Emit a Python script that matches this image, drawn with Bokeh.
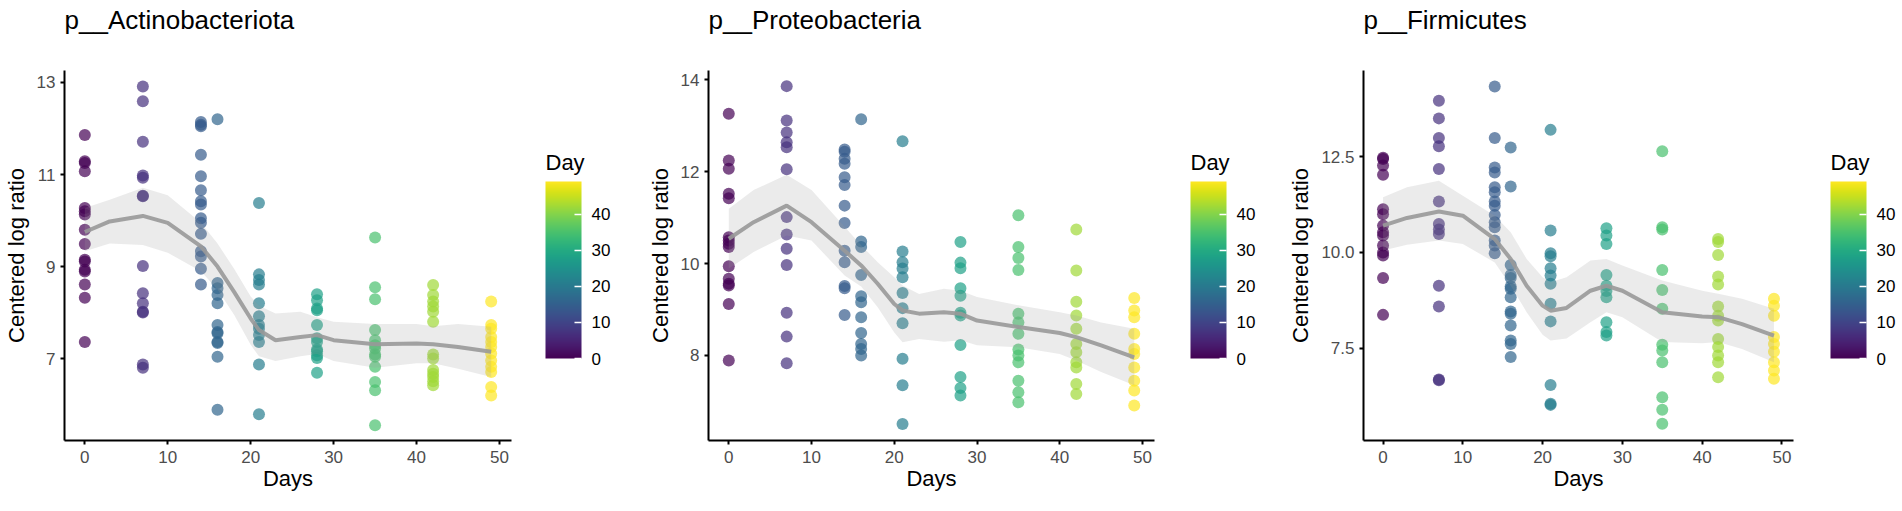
from bokeh.plotting import figure
from bokeh.layouts import row, column
from bokeh.models import (ColumnDataSource, LinearColorMapper, ColorBar, FixedTicker,
                          Range1d, NumeralTickFormatter, Title, Spacer)
from bokeh.palettes import Viridis256
from bokeh.transform import linear_cmap
from bokeh.embed import file_html
from bokeh.resources import INLINE

FONT = "Liberation Sans"

days = [0, 7, 14, 16, 21, 28, 35, 42, 49]
x_ticks = [0, 10, 20, 30, 40, 50]
day_ticks = [0, 10, 20, 30, 40]

# ---- p__Actinobacteriota ----
actino_values = [
    [11.86, 11.29, 11.25, 11.07, 10.27, 10.2, 10.13, 9.8, 9.49, 9.15, 9.11, 8.93, 8.89, 8.61, 8.32, 7.36],
    [12.91, 12.59, 11.71, 10.98, 10.93, 10.54, 10.53, 9.01, 8.42, 8.2, 8.02, 8.0, 6.87, 6.8],
    [12.14, 12.08, 12.05, 11.43, 10.96, 10.66, 10.42, 10.35, 10.05, 9.95, 9.71, 9.33, 9.22, 8.95, 8.61],
    [12.2, 8.64, 8.53, 8.38, 8.2, 7.73, 7.58, 7.55, 7.36, 7.34, 7.04, 5.89],
    [10.38, 8.83, 8.71, 8.61, 8.2, 7.92, 7.73, 7.65, 7.51, 7.36, 6.87, 5.79],
    [8.4, 8.27, 8.09, 8.05, 7.73, 7.44, 7.36, 7.2, 7.16, 7.07, 7.01, 6.69],
    [9.63, 8.55, 8.29, 7.62, 7.4, 7.29, 7.22, 7.09, 7.04, 6.82, 6.49, 6.31, 5.55],
    [8.6, 8.38, 8.24, 8.13, 8.02, 7.8, 7.09, 7.0, 6.75, 6.67, 6.6, 6.51, 6.42],
    [8.24, 7.73, 7.65, 7.47, 7.36, 7.25, 7.11, 6.96, 6.82, 6.71, 6.38, 6.2],
]

# ---- p__Proteobacteria ----
proteo_values = [
    [13.26, 12.24, 12.06, 11.52, 11.42, 10.57, 10.5, 10.43, 10.36, 9.94, 9.67, 9.56, 9.52, 9.12, 7.89],
    [13.86, 13.11, 12.85, 12.64, 12.53, 12.05, 11.01, 10.63, 10.32, 9.97, 8.93, 8.41, 7.83],
    [12.48, 12.43, 12.28, 12.17, 11.88, 11.71, 11.26, 10.88, 10.28, 10.03, 9.51, 9.46, 8.88],
    [13.14, 10.48, 10.36, 9.75, 9.29, 9.16, 8.83, 8.49, 8.25, 8.14, 8.0],
    [12.66, 10.26, 10.03, 9.89, 9.7, 9.36, 9.03, 8.7, 7.93, 7.35, 6.51],
    [10.47, 10.02, 9.9, 9.46, 9.3, 8.93, 8.87, 8.23, 7.53, 7.29, 7.13],
    [11.05, 10.36, 10.12, 9.86, 8.91, 8.72, 8.47, 8.13, 8.0, 7.85, 7.45, 7.2, 6.98],
    [10.74, 9.85, 9.17, 8.87, 8.58, 8.25, 8.07, 7.85, 7.74, 7.38, 7.16],
    [9.25, 8.98, 8.83, 8.47, 8.14, 8.03, 7.74, 7.45, 7.24, 6.91],
]

# ---- p__Firmicutes ----
firmi_values = [
    [12.47, 12.44, 12.27, 12.03, 11.13, 11.0, 10.7, 10.53, 10.44, 10.18, 10.0, 9.92, 9.33, 8.37],
    [13.96, 13.5, 12.99, 12.77, 12.18, 11.33, 10.74, 10.6, 10.48, 9.13, 8.59, 6.68, 6.66],
    [14.33, 12.99, 12.22, 12.09, 11.7, 11.57, 11.33, 11.22, 10.98, 10.79, 10.66, 10.31, 10.18, 9.98],
    [12.74, 11.72, 9.67, 9.41, 9.33, 9.11, 9.05, 8.83, 8.46, 8.4, 8.09, 7.7, 7.61, 7.27],
    [13.2, 10.57, 9.98, 9.9, 9.59, 9.4, 9.18, 8.66, 8.2, 6.54, 6.05, 6.02],
    [10.63, 10.44, 10.22, 9.41, 9.13, 8.99, 8.83, 8.18, 7.92, 7.83],
    [12.64, 10.66, 10.6, 9.54, 9.02, 8.53, 7.59, 7.44, 7.13, 6.22, 5.89, 5.53],
    [10.35, 10.27, 9.93, 9.37, 9.16, 8.59, 8.35, 8.22, 7.74, 7.53, 7.31, 7.13, 6.74],
    [8.79, 8.61, 8.35, 7.79, 7.61, 7.41, 7.13, 6.92, 6.7],
]

# ---- loess smooth ----
smooth_days = [0, 3, 7, 10, 14, 16, 18, 20, 21, 23, 26, 28, 30, 35, 40, 42, 45, 49]

actino_fit = [9.75, 9.98, 10.1, 9.95, 9.44, 9.0, 8.45, 7.87, 7.62, 7.4, 7.47, 7.51, 7.4, 7.31, 7.33, 7.31, 7.25, 7.15]
actino_upper = [10.27, 10.45, 10.71, 10.55, 9.95, 9.5, 8.95, 8.35, 8.15, 7.98, 8.02, 7.9, 7.8, 7.75, 7.75, 7.7, 7.75, 7.69]
actino_lower = [9.33, 9.5, 9.47, 9.3, 8.9, 8.5, 7.95, 7.3, 7.05, 6.95, 7.05, 7.1, 6.95, 6.8, 6.9, 6.9, 6.78, 6.6]

proteo_fit = [10.54, 10.9, 11.26, 10.9, 10.28, 9.96, 9.56, 9.12, 8.98, 8.91, 8.94, 8.91, 8.76, 8.62, 8.49, 8.4, 8.22, 7.96]
proteo_upper = [11.19, 11.6, 11.93, 11.6, 10.8, 10.4, 10.03, 9.7, 9.52, 9.34, 9.45, 9.41, 9.27, 9.09, 8.94, 8.87, 8.72, 8.58]
proteo_lower = [9.89, 10.25, 10.61, 10.5, 9.74, 9.5, 9.05, 8.5, 8.29, 8.36, 8.3, 8.33, 8.22, 8.18, 8.03, 7.89, 7.64, 7.35]

firmi_fit = [10.7, 10.9, 11.07, 10.96, 10.35, 9.83, 9.13, 8.61, 8.48, 8.55, 9.0, 9.13, 9.0, 8.44, 8.33, 8.31, 8.13, 7.83]
firmi_upper = [11.44, 11.7, 11.87, 11.48, 10.96, 10.53, 9.83, 9.35, 9.22, 9.35, 9.79, 9.83, 9.66, 9.27, 9.0, 8.92, 8.79, 8.53]
firmi_lower = [10.05, 10.2, 10.31, 10.22, 9.74, 9.13, 8.44, 7.85, 7.7, 7.75, 8.18, 8.44, 8.31, 7.66, 7.63, 7.66, 7.48, 7.13]

panels = [
    dict(title="p__Actinobacteriota", values=actino_values, fit=actino_fit, upper=actino_upper,
         lower=actino_lower, y0=5.22, y1=13.26, yticks=[7, 9, 11, 13], fmt="0",
         left=58, frame_w=447, leg_left=14, leg_right=63),
    dict(title="p__Proteobacteria", values=proteo_values, fit=proteo_fit, upper=proteo_upper,
         lower=proteo_lower, y0=6.15, y1=14.2, yticks=[8, 10, 12, 14], fmt="0",
         left=59, frame_w=446, leg_left=16, leg_right=58),
    dict(title="p__Firmicutes", values=firmi_values, fit=firmi_fit, upper=firmi_upper,
         lower=firmi_lower, y0=5.09, y1=14.75, yticks=[7.5, 10.0, 12.5], fmt="0.0",
         left=79, frame_w=430, leg_left=17, leg_right=31),
]

FRAME_H = 370
MAIN_RIGHT = 20
CB_W = 36
CB_H = 177
LEG_TITLE_STANDOFF = 14
LEG_SPACER = 140


def make_panel(cfg):
    xs, ys, ds = [], [], []
    for d, vals in zip(days, cfg["values"]):
        for v in vals:
            xs.append(d)
            ys.append(v)
            ds.append(d)
    src = ColumnDataSource(dict(x=xs, y=ys, day=ds))

    p = figure(frame_width=cfg["frame_w"], frame_height=FRAME_H,
               min_border_left=cfg["left"], min_border_right=MAIN_RIGHT,
               min_border_top=70, min_border_bottom=55,
               x_range=Range1d(-2.45, 51.45), y_range=Range1d(cfg["y0"], cfg["y1"]),
               output_backend="svg", toolbar_location=None)
    p.outline_line_color = None
    p.xgrid.visible = False
    p.ygrid.visible = False
    p.background_fill_color = "white"
    p.border_fill_color = "white"

    # a blank spacer title next to the frame pushes the real title to the top
    p.add_layout(Title(text=" ", text_font=FONT, text_font_size="26px", standoff=2), "above")
    p.add_layout(Title(text=cfg["title"], text_font=FONT, text_font_size="26px",
                       text_font_style="normal", text_color="black", align="left",
                       vertical_align="top", standoff=0), "above")

    p.scatter("x", "y", source=src, size=12, line_color=None, fill_alpha=0.7,
              fill_color=linear_cmap("day", Viridis256, 0, 49))
    p.varea(x=smooth_days, y1=cfg["lower"], y2=cfg["upper"],
            fill_color="#999999", fill_alpha=0.2)
    p.line(smooth_days, cfg["fit"], line_color="#999999", line_width=4, line_alpha=0.9)

    for ax in (p.xaxis[0], p.yaxis[0]):
        ax.axis_line_width = 2
        ax.axis_line_color = "black"
        ax.major_tick_line_width = 2
        ax.major_tick_line_color = "black"
        ax.major_tick_out = 4
        ax.major_tick_in = 0
        ax.minor_tick_line_color = None
        ax.major_label_text_font = FONT
        ax.major_label_text_font_size = "17px"
        ax.major_label_text_color = "#4D4D4D"
        ax.axis_label_text_font = FONT
        ax.axis_label_text_font_size = "22px"
        ax.axis_label_text_font_style = "normal"
        ax.axis_label_text_color = "black"

    p.xaxis.axis_label = "Days"
    p.xaxis.ticker = FixedTicker(ticks=x_ticks)
    p.xaxis.major_label_standoff = 6
    p.xaxis.axis_label_standoff = 0

    p.yaxis.axis_label = "Centered log ratio"
    p.yaxis.ticker = FixedTicker(ticks=cfg["yticks"])
    p.yaxis.formatter = NumeralTickFormatter(format=cfg["fmt"])
    p.yaxis.major_label_standoff = 5
    p.yaxis.axis_label_standoff = 5

    # colour-bar legend in its own small figure, so that its title sits above the bar
    leg = figure(frame_width=CB_W, frame_height=CB_H,
                 min_border_left=cfg["leg_left"], min_border_right=cfg["leg_right"],
                 min_border_top=0, min_border_bottom=20,
                 x_axis_type=None, y_axis_type=None,
                 output_backend="svg", toolbar_location=None)
    leg.outline_line_color = None
    leg.background_fill_color = "white"
    leg.border_fill_color = "white"
    leg.add_layout(Title(text="Day", text_font=FONT, text_font_size="22px",
                         text_font_style="normal", text_color="black", align="left",
                         vertical_align="bottom", standoff=LEG_TITLE_STANDOFF), "above")
    mapper = LinearColorMapper(palette=Viridis256, low=0, high=49)
    cb = ColorBar(color_mapper=mapper, orientation="vertical", width=CB_W, height=CB_H,
                  location=(0, 0), padding=0, margin=0, ticker=FixedTicker(ticks=day_ticks),
                  major_label_text_font=FONT, major_label_text_font_size="17px",
                  major_label_text_color="black", label_standoff=10,
                  major_tick_line_color="white", major_tick_line_width=1.5,
                  major_tick_in=7, major_tick_out=0, minor_tick_line_color=None,
                  bar_line_color=None, border_line_color=None,
                  background_fill_color=None, background_fill_alpha=0)
    leg.add_layout(cb, "center")

    return [p, column(Spacer(width=1, height=LEG_SPACER), leg, spacing=0)]


items = []
for c in panels:
    items.extend(make_panel(c))
layout = row(*items, spacing=0)
open("out.html", "w").write(file_html(layout, INLINE))
